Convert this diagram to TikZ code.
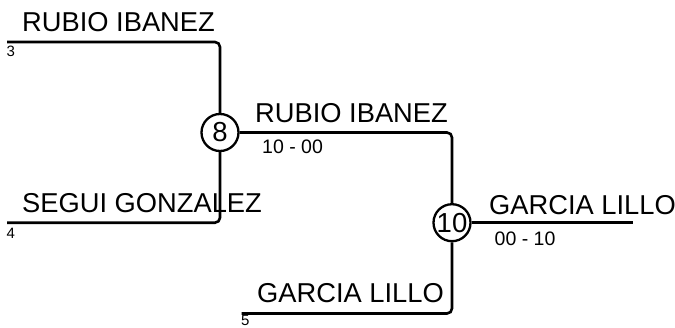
\documentclass[tikz,border=0pt]{standalone}
\usepackage{fontspec}
\setmainfont{Liberation Sans}
\begin{document}
\begin{tikzpicture}[x=1pt,y=-1pt,
  wire/.style={line width=2.6pt,rounded corners=5pt},
  game/.style={circle,draw,line width=2.3pt,minimum size=37pt,inner sep=0pt,font=\fontsize{27.5}{29}\selectfont},
  pname/.style={anchor=base west,inner sep=0pt,font=\fontsize{27.3}{29}\selectfont},
  seedno/.style={anchor=base west,inner sep=0pt,font=\fontsize{15}{17}\selectfont},
  scoretxt/.style={anchor=base west,inner sep=0pt,font=\fontsize{19.5}{21}\selectfont}]
\useasboundingbox (0,0) rectangle (675,327);
\node[game] (c8) at (220,132.5) {8};
\node[game] (c10) at (452,222.7) {10};
\coordinate (p3) at (7,42);
\coordinate (p4) at (7,222.7);
\coordinate (p5) at (241.5,313.5);
\coordinate (fin) at (632.5,222.7);
\draw[wire] (p3) -| (c8);
\draw[wire] (p4) -| (c8);
\draw[wire] (c8) -| (c10);
\draw[wire] (p5) -| (c10);
\draw[wire] (c10) -- (fin);
\node[pname] (n3) at (22,31.5) {RUBIO IBANEZ};
\node[seedno] (s3) at (6.5,56) {3};
\node[pname] (n4) at (22,212) {SEGUI GONZALEZ};
\node[seedno] (s4) at (6.5,238.5) {4};
\node[pname] (n8) at (255,122) {RUBIO IBANEZ};
\node[scoretxt] (r8) at (262,153) {10 - 00};
\node[pname] (n5) at (257,302.5) {GARCIA LILLO};
\node[seedno] (s5) at (241,325) {5};
\node[pname] (n10) at (489,214) {GARCIA LILLO};
\node[scoretxt] (r10) at (494.5,245) {00 - 10};
\end{tikzpicture}
\end{document}
